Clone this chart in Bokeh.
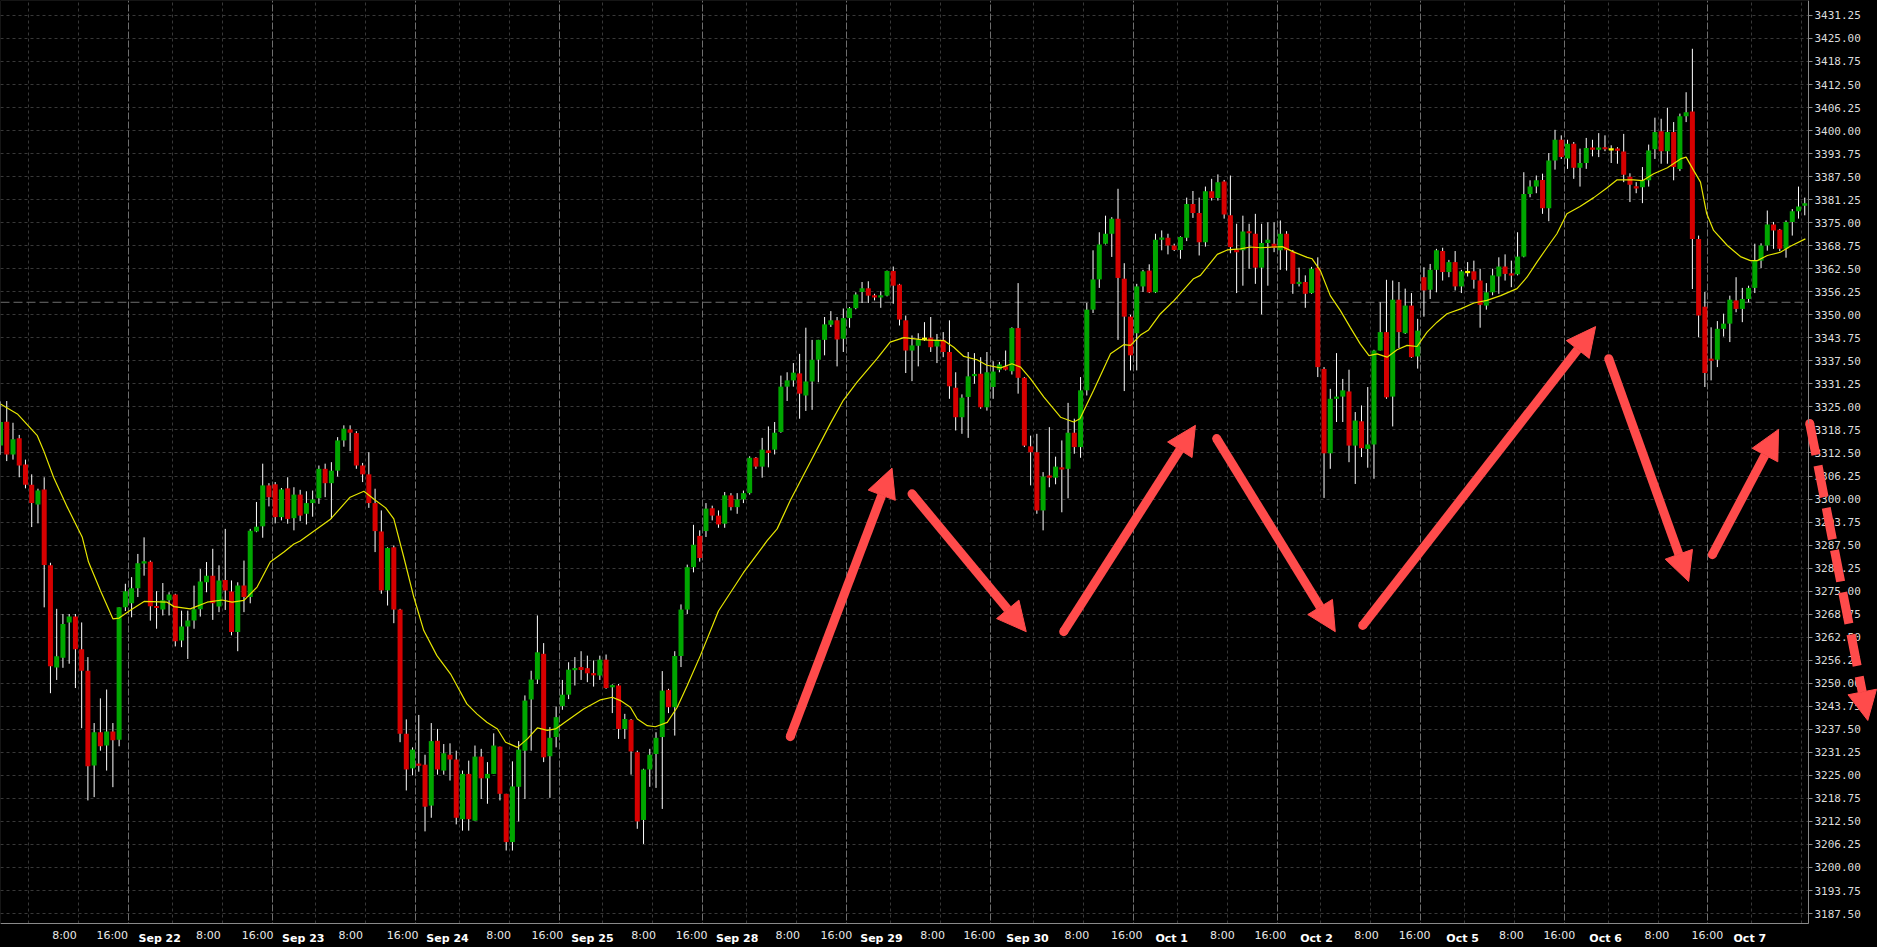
from bokeh.plotting import figure
from bokeh.models import (Range1d, FixedTicker, PrintfTickFormatter, Grid, Span,
                          Label, Arrow, NormalHead, BoxAnnotation)
from bokeh.embed import file_html
from bokeh.resources import INLINE

# ---------------- data (hourly bars, index 0..289) ----------------
opens = [
    3314.5, 3321.0, 3312.1, 3316.5, 3309.4, 3303.9, 3298.5, 3302.6, 3282.0, 3254.3,
    3256.9, 3266.5, 3268.1, 3259.2, 3253.4, 3227.7, 3236.7, 3233.1, 3236.9, 3234.7,
    3270.6, 3271.7, 3275.8, 3282.6, 3283.0, 3270.9, 3270.0, 3272.5, 3274.1, 3261.6,
    3265.4, 3267.0, 3270.1, 3277.4, 3279.2, 3270.8, 3278.0, 3274.9, 3263.9, 3276.5,
    3273.4, 3291.2, 3292.6, 3303.7, 3304.0, 3295.1, 3302.9, 3294.8, 3301.2, 3296.0,
    3298.9, 3300.2, 3308.2, 3304.3, 3307.7, 3315.9, 3318.9, 3317.9, 3309.1, 3306.7,
    3298.9, 3291.2, 3275.2, 3286.9, 3270.0, 3236.3, 3226.9, 3228.1, 3227.9, 3216.8,
    3234.4, 3226.3, 3230.6, 3229.3, 3213.1, 3225.4, 3212.7, 3230.1, 3224.2, 3225.4,
    3232.8, 3220.0, 3206.9, 3221.9, 3231.7, 3245.6, 3251.0, 3258.0, 3230.2, 3235.4,
    3243.8, 3246.9, 3253.6, 3254.4, 3254.1, 3252.7, 3252.1, 3256.4, 3249.0, 3249.4,
    3237.6, 3240.1, 3231.3, 3212.9, 3226.6, 3230.8, 3235.4, 3248.2, 3243.5, 3257.4,
    3270.0, 3281.5, 3290.0, 3291.3, 3297.5, 3295.5, 3293.3, 3301.0, 3297.8, 3299.9,
    3301.6, 3311.2, 3308.8, 3313.2, 3313.4, 3318.2, 3330.5, 3332.2, 3334.1, 3328.1,
    3331.9, 3337.8, 3343.2, 3347.3, 3348.5, 3343.5, 3349.1, 3351.8, 3356.2, 3357.2,
    3355.2, 3354.8, 3355.2, 3361.9, 3358.2, 3348.5, 3340.3, 3341.6, 3343.5, 3343.8,
    3341.4, 3343.2, 3339.9, 3330.2, 3322.2, 3327.7, 3333.5, 3334.0, 3324.9, 3330.4,
    3335.1, 3336.0, 3334.7, 3346.4, 3332.9, 3314.3, 3312.7, 3296.9, 3306.4, 3305.8,
    3308.6, 3308.2, 3318.0, 3314.1, 3329.5, 3351.4, 3359.6, 3369.3, 3372.0, 3376.1,
    3359.8, 3349.5, 3345.0, 3357.7, 3362.0, 3356.1, 3370.4, 3370.9, 3368.8, 3367.6,
    3370.9, 3380.1, 3377.6, 3369.7, 3383.5, 3381.7, 3386.2, 3377.0, 3367.6, 3367.5,
    3372.6, 3372.0, 3362.8, 3369.5, 3369.3, 3367.5, 3372.0, 3367.2, 3358.4, 3358.9,
    3355.9, 3362.8, 3335.3, 3312.4, 3327.2, 3327.8, 3329.2, 3314.5, 3321.1, 3313.6,
    3314.8, 3340.3, 3345.3, 3327.8, 3354.1, 3345.0, 3352.5, 3338.7, 3360.2, 3356.8,
    3362.2, 3367.3, 3361.6, 3364.3, 3357.7, 3361.6, 3361.8, 3359.3, 3352.5, 3356.1,
    3360.4, 3363.1, 3361.1, 3361.0, 3365.8, 3382.8, 3384.8, 3386.6, 3378.9, 3391.9,
    3397.5, 3392.4, 3396.4, 3389.9, 3391.2, 3395.3, 3394.9, 3395.5, 3394.9, 3395.0,
    3394.3, 3387.5, 3384.8, 3384.6, 3386.5, 3394.9, 3399.8, 3394.4, 3399.6, 3389.6,
    3403.9, 3405.2, 3370.6, 3352.2, 3338.0, 3337.8, 3346.2, 3347.6, 3353.9, 3351.6,
    3354.3, 3357.3, 3364.7, 3368.8, 3374.5, 3373.1, 3367.9, 3375.2, 3378.1, 3379.6]

highs = [
    3326.5, 3326.6, 3320.7, 3317.4, 3310.7, 3306.7, 3302.8, 3305.9, 3282.7, 3270.2,
    3268.8, 3268.8, 3268.8, 3266.5, 3257.1, 3239.2, 3245.9, 3248.3, 3239.2, 3270.6,
    3277.0, 3278.8, 3285.1, 3289.6, 3283.3, 3275.0, 3277.2, 3274.7, 3274.3, 3269.7,
    3269.7, 3276.5, 3281.0, 3282.9, 3286.5, 3282.0, 3291.9, 3277.9, 3277.4, 3283.3,
    3291.9, 3299.2, 3309.6, 3304.3, 3304.6, 3303.0, 3305.9, 3303.2, 3302.5, 3302.1,
    3302.3, 3309.1, 3309.6, 3310.0, 3316.8, 3320.0, 3320.0, 3318.4, 3309.8, 3312.7,
    3302.8, 3296.9, 3286.9, 3287.4, 3270.2, 3240.2, 3232.6, 3241.4, 3230.6, 3239.2,
    3237.6, 3233.5, 3233.7, 3231.7, 3226.3, 3229.0, 3233.1, 3232.2, 3228.6, 3236.4,
    3232.8, 3220.0, 3228.8, 3234.3, 3246.7, 3253.4, 3268.4, 3260.9, 3238.1, 3243.7,
    3250.9, 3255.7, 3257.1, 3258.7, 3257.5, 3256.2, 3257.5, 3257.8, 3249.7, 3249.8,
    3241.7, 3240.3, 3231.7, 3226.8, 3232.2, 3236.7, 3253.3, 3248.5, 3258.7, 3271.4,
    3282.2, 3293.0, 3291.5, 3298.9, 3298.2, 3296.9, 3301.9, 3301.6, 3301.6, 3302.3,
    3311.6, 3311.4, 3316.6, 3319.7, 3320.9, 3333.5, 3334.4, 3336.9, 3339.4, 3346.5,
    3343.2, 3343.2, 3349.4, 3351.0, 3349.4, 3351.7, 3352.1, 3356.1, 3358.9, 3359.1,
    3355.7, 3356.4, 3362.0, 3363.1, 3358.4, 3349.8, 3344.4, 3345.0, 3348.0, 3349.4,
    3344.8, 3345.3, 3348.5, 3334.4, 3328.4, 3339.9, 3339.6, 3338.5, 3339.9, 3337.4,
    3337.2, 3340.3, 3346.6, 3358.6, 3333.1, 3317.2, 3317.7, 3307.3, 3319.5, 3311.5,
    3315.9, 3326.1, 3321.8, 3333.1, 3353.2, 3367.5, 3372.4, 3376.9, 3376.5, 3384.2,
    3364.0, 3350.0, 3358.4, 3362.2, 3363.7, 3372.0, 3372.9, 3372.0, 3369.3, 3371.3,
    3381.8, 3383.6, 3381.8, 3384.8, 3386.9, 3388.1, 3386.6, 3387.8, 3374.7, 3376.9,
    3374.7, 3377.4, 3374.7, 3375.1, 3375.1, 3375.6, 3372.7, 3367.6, 3362.8, 3360.7,
    3363.0, 3365.6, 3335.8, 3329.9, 3339.6, 3332.6, 3335.1, 3323.6, 3325.4, 3330.4,
    3340.5, 3353.4, 3359.5, 3359.3, 3358.9, 3357.1, 3355.9, 3348.9, 3362.9, 3363.8,
    3367.9, 3368.2, 3364.9, 3367.3, 3362.2, 3364.3, 3364.7, 3362.5, 3358.6, 3362.5,
    3365.6, 3366.4, 3364.7, 3372.4, 3388.7, 3386.5, 3387.8, 3388.3, 3393.9, 3400.2,
    3398.7, 3397.5, 3396.9, 3395.1, 3398.0, 3397.5, 3399.3, 3398.7, 3396.0, 3395.5,
    3399.1, 3388.4, 3386.0, 3390.1, 3396.2, 3403.5, 3403.2, 3406.2, 3402.3, 3404.6,
    3410.4, 3422.2, 3371.5, 3356.2, 3346.6, 3348.3, 3350.3, 3355.2, 3360.2, 3357.3,
    3357.9, 3369.3, 3369.4, 3378.3, 3375.2, 3373.3, 3375.6, 3378.7, 3384.8, 3381.8]

lows = [
    3312.0, 3310.3, 3310.7, 3305.9, 3302.9, 3292.4, 3293.4, 3270.6, 3247.3, 3250.9,
    3254.2, 3255.3, 3248.7, 3237.8, 3218.2, 3219.1, 3231.7, 3226.3, 3221.8, 3232.9,
    3269.6, 3267.9, 3273.4, 3279.2, 3267.0, 3264.8, 3268.4, 3268.4, 3260.0, 3259.8,
    3256.6, 3264.8, 3268.1, 3274.7, 3267.2, 3269.3, 3269.9, 3263.0, 3258.7, 3269.3,
    3271.7, 3291.0, 3289.5, 3298.0, 3293.4, 3294.2, 3293.3, 3291.5, 3294.0, 3293.1,
    3295.2, 3298.7, 3300.5, 3294.6, 3306.1, 3314.2, 3313.0, 3308.2, 3304.6, 3297.6,
    3285.6, 3274.3, 3271.1, 3266.3, 3234.0, 3220.9, 3225.0, 3226.0, 3209.8, 3213.5,
    3225.2, 3225.2, 3223.6, 3211.7, 3210.0, 3210.0, 3212.7, 3218.6, 3217.3, 3225.4,
    3218.2, 3204.6, 3204.6, 3212.5, 3218.6, 3231.7, 3249.8, 3228.6, 3218.9, 3232.6,
    3242.8, 3245.7, 3249.4, 3250.9, 3250.3, 3249.1, 3250.9, 3248.5, 3241.9, 3234.9,
    3234.9, 3225.2, 3210.5, 3206.4, 3221.9, 3221.6, 3215.9, 3241.9, 3235.8, 3254.4,
    3268.8, 3280.1, 3283.0, 3289.7, 3294.2, 3292.2, 3292.2, 3296.9, 3296.0, 3298.9,
    3301.2, 3308.2, 3305.8, 3308.6, 3312.1, 3318.0, 3326.6, 3330.5, 3321.8, 3323.9,
    3324.2, 3331.7, 3339.0, 3346.7, 3336.0, 3339.9, 3346.5, 3351.5, 3353.2, 3353.2,
    3353.9, 3351.9, 3355.0, 3353.0, 3347.1, 3334.2, 3332.0, 3336.0, 3342.9, 3339.9,
    3336.9, 3338.5, 3327.2, 3318.6, 3317.7, 3316.6, 3331.3, 3324.5, 3324.0, 3327.2,
    3334.4, 3334.9, 3333.8, 3328.6, 3314.1, 3303.7, 3296.0, 3291.5, 3303.2, 3304.0,
    3296.4, 3300.2, 3312.3, 3311.2, 3328.1, 3350.5, 3357.3, 3369.1, 3365.7, 3343.2,
    3329.3, 3334.9, 3334.9, 3356.2, 3355.9, 3355.9, 3367.5, 3366.4, 3367.3, 3365.2,
    3370.0, 3376.3, 3366.1, 3368.5, 3381.0, 3381.0, 3376.1, 3366.7, 3355.9, 3357.9,
    3362.5, 3358.4, 3350.1, 3357.9, 3367.0, 3362.2, 3362.0, 3355.7, 3357.7, 3351.9,
    3355.7, 3333.1, 3300.3, 3308.2, 3320.9, 3320.9, 3310.0, 3304.1, 3311.4, 3308.5,
    3305.5, 3340.3, 3327.2, 3319.7, 3341.0, 3344.8, 3338.3, 3335.4, 3349.5, 3354.3,
    3356.1, 3359.3, 3360.2, 3356.6, 3355.9, 3360.4, 3357.1, 3346.5, 3351.4, 3355.3,
    3355.7, 3359.3, 3357.5, 3360.7, 3365.6, 3381.9, 3383.0, 3377.4, 3375.4, 3389.4,
    3392.3, 3389.6, 3386.9, 3384.8, 3389.6, 3393.0, 3392.8, 3394.4, 3391.2, 3391.0,
    3386.0, 3380.6, 3383.0, 3380.3, 3384.8, 3392.3, 3391.0, 3391.0, 3386.5, 3389.0,
    3402.3, 3357.0, 3343.9, 3330.4, 3332.2, 3335.8, 3344.1, 3342.6, 3350.7, 3348.0,
    3353.4, 3355.9, 3362.7, 3367.4, 3367.9, 3367.3, 3365.5, 3371.5, 3376.1, 3377.0]

closes = [
    3320.9, 3312.1, 3316.2, 3309.1, 3303.9, 3298.9, 3302.3, 3282.1, 3254.6, 3257.3,
    3266.1, 3268.1, 3259.2, 3253.4, 3227.5, 3236.7, 3232.9, 3236.9, 3234.5, 3270.6,
    3275.0, 3275.8, 3282.6, 3283.0, 3270.9, 3270.5, 3272.5, 3274.1, 3261.4, 3265.4,
    3267.0, 3270.1, 3277.6, 3279.2, 3271.7, 3277.9, 3275.2, 3263.9, 3276.5, 3273.4,
    3291.4, 3292.5, 3303.7, 3300.5, 3295.1, 3302.6, 3294.6, 3301.2, 3295.5, 3298.9,
    3299.9, 3308.2, 3304.3, 3307.7, 3315.9, 3319.1, 3318.0, 3309.1, 3306.7, 3298.9,
    3291.3, 3275.2, 3286.7, 3270.0, 3236.3, 3226.6, 3232.0, 3227.7, 3216.5, 3234.3,
    3226.6, 3231.0, 3229.3, 3213.5, 3225.4, 3213.1, 3230.1, 3224.2, 3225.4, 3233.1,
    3220.0, 3206.9, 3222.0, 3232.0, 3245.3, 3251.0, 3258.4, 3229.9, 3235.2, 3240.8,
    3246.9, 3253.7, 3254.1, 3253.6, 3252.7, 3252.2, 3256.4, 3248.7, 3249.4, 3237.6,
    3240.3, 3231.5, 3212.5, 3226.6, 3230.6, 3235.2, 3248.0, 3243.5, 3257.4, 3270.0,
    3281.5, 3287.6, 3284.0, 3297.4, 3295.5, 3293.1, 3301.0, 3297.8, 3299.9, 3301.6,
    3311.2, 3308.8, 3313.4, 3312.5, 3318.0, 3330.5, 3332.2, 3334.3, 3328.6, 3331.9,
    3337.8, 3343.2, 3347.4, 3348.5, 3343.3, 3349.1, 3351.8, 3355.5, 3357.2, 3355.2,
    3354.8, 3355.2, 3361.9, 3357.9, 3348.7, 3340.3, 3341.7, 3343.2, 3343.5, 3341.2,
    3343.2, 3339.9, 3330.6, 3322.2, 3327.5, 3333.3, 3333.8, 3324.9, 3334.4, 3334.6,
    3336.5, 3335.1, 3346.4, 3332.9, 3314.5, 3312.7, 3296.9, 3306.1, 3305.8, 3308.8,
    3308.0, 3318.0, 3314.1, 3329.5, 3351.4, 3359.6, 3369.1, 3372.0, 3376.1, 3360.0,
    3349.5, 3339.0, 3357.7, 3361.8, 3356.1, 3370.4, 3370.9, 3368.8, 3367.6, 3371.1,
    3380.1, 3377.6, 3369.7, 3383.5, 3381.7, 3386.0, 3377.2, 3368.4, 3367.0, 3372.6,
    3372.2, 3362.8, 3369.5, 3370.4, 3368.2, 3372.0, 3367.5, 3358.4, 3358.9, 3355.7,
    3362.5, 3335.8, 3312.4, 3327.2, 3327.8, 3329.5, 3314.5, 3321.3, 3313.8, 3314.8,
    3340.3, 3345.3, 3327.6, 3354.1, 3345.3, 3352.5, 3338.5, 3345.7, 3356.6, 3362.2,
    3367.5, 3361.6, 3364.3, 3357.7, 3361.8, 3361.6, 3359.5, 3352.7, 3356.1, 3360.7,
    3363.1, 3361.1, 3360.8, 3365.8, 3382.8, 3384.8, 3386.5, 3378.9, 3391.9, 3397.5,
    3392.8, 3396.4, 3389.9, 3391.2, 3395.3, 3394.9, 3395.3, 3394.9, 3394.9, 3394.7,
    3388.0, 3385.3, 3384.4, 3386.5, 3394.6, 3399.6, 3394.4, 3399.6, 3390.1, 3403.9,
    3405.0, 3370.6, 3349.8, 3334.2, 3337.6, 3346.2, 3347.6, 3354.1, 3351.6, 3354.3,
    3357.3, 3364.7, 3368.8, 3374.5, 3372.9, 3367.9, 3375.2, 3378.1, 3379.4, 3380.3]

# moving average
ma_x = [0, 2.7, 5.9, 6.9, 8.5, 10.7, 13.1, 14.1, 16, 18, 19, 20.8, 23, 26.7, 27.8, 30.4,
        33.1, 35.5, 37.1, 39, 41.1, 43.2, 45.4, 47, 48, 52.9, 56, 58.2, 60.1, 61.7, 63,
        64.6, 66.2, 67.8, 69.9, 72.1, 73.1, 74.7, 76.3, 77.9, 79.6, 80.9, 82.8, 84.4, 86,
        87.6, 88.9, 90.8, 93.4, 96.1, 98, 99.3, 100.9, 102, 103.6, 104.9, 106.8, 108.4,
        110, 112.1, 115, 119, 122.8, 124.4, 126.5, 129.7, 132.9, 135, 137.2, 140.4, 142.5,
        144.7, 147.9, 151.1, 152.7, 154.3, 156.4, 158, 160.2, 162, 163.4, 165, 167.1,
        169.8, 171.9, 172.9, 175.1, 177.8, 179.9, 181, 182.6, 183.9, 185.8, 188, 191.1,
        192.2, 194.9, 196.5, 198.6, 200.2, 201.8, 203.9, 205.3, 207.2, 209.3, 210.1,
        211.4, 213, 214.6, 216.2, 217.8, 219.2, 220.5, 222.1, 223.7, 225.3, 226.9, 228.5,
        230.1, 231.7, 233.9, 236, 238.1, 240.3, 242.9, 244.5, 246.1, 247.7, 249.3, 250.9,
        253, 255.2, 257.3, 258.9, 261.6, 263, 264.8, 267, 269.1, 270, 271.2, 272.3, 273.3,
        274.4, 276.6, 278.7, 280.3, 281.4, 283, 285.1, 286.7, 289.1]
ma_y = [3325.8, 3323.1, 3317.2, 3313.2, 3305.9, 3297.8, 3289.6, 3282.9, 3275.2, 3267.5,
        3267.7, 3269.8, 3272.2, 3272.0, 3270.8, 3270.2, 3272.0, 3272.6, 3272.0, 3272.5,
        3276.1, 3282.9, 3285.6, 3287.8, 3288.6, 3294.6, 3300.5, 3302.1, 3299.6, 3297.6,
        3294.6, 3284.2, 3273.4, 3264.3, 3257.5, 3252.5, 3249.4, 3244.4, 3241.7, 3239.4,
        3237.6, 3234.0, 3232.6, 3234.9, 3237.9, 3237.2, 3237.6, 3239.9, 3243.0, 3245.5,
        3246.2, 3245.3, 3243.5, 3240.3, 3238.5, 3238.2, 3239.4, 3243.5, 3249.4, 3257.5,
        3269.6, 3280.0, 3288.7, 3291.9, 3299.6, 3310.0, 3320.4, 3326.8, 3331.7, 3338.1,
        3342.6, 3343.8, 3343.2, 3343.0, 3341.2, 3338.7, 3337.8, 3336.3, 3335.6, 3336.7,
        3335.8, 3332.6, 3327.7, 3322.2, 3320.9, 3321.8, 3329.5, 3339.4, 3341.9, 3341.7,
        3344.5, 3345.9, 3350.3, 3353.9, 3359.8, 3360.7, 3366.4, 3367.6, 3367.9, 3368.4,
        3368.2, 3368.4, 3368.5, 3367.0, 3365.6, 3365.2, 3362.0, 3355.2, 3351.2, 3346.6,
        3342.1, 3338.9, 3339.4, 3338.5, 3340.5, 3341.7, 3341.4, 3345.3, 3348.0, 3350.3,
        3351.6, 3353.2, 3353.9, 3355.2, 3357.1, 3360.2, 3364.3, 3368.2, 3372.0, 3377.4,
        3379.4, 3381.8, 3384.4, 3386.6, 3386.6, 3386.4, 3388.3, 3389.9, 3392.3, 3392.8,
        3389.2, 3386.0, 3377.4, 3372.9, 3368.8, 3365.8, 3364.7, 3364.7, 3366.1, 3367.0,
        3368.6, 3370.6]

ref_level = 3353.4  # horizontal dashed reference line

# x-axis tick labels
time_ticks = [10.25, 17.9, 33.3, 41.2, 56.1, 64.4, 79.8, 87.6, 103.0, 110.7, 126.1, 133.9,
              149.3, 156.8, 172.4, 180.4, 195.7, 203.4, 218.8, 226.5, 242.0, 249.7, 265.3, 273.4]
time_labels = ["8:00", "16:00"] * 12
date_ticks = [25.5, 48.5, 71.6, 94.8, 118.0, 141.1, 164.5, 187.6, 210.8, 234.2, 257.1, 280.2]
date_labels = ["Sep 22", "Sep 23", "Sep 24", "Sep 25", "Sep 28", "Sep 29", "Sep 30",
               "Oct 1", "Oct 2", "Oct 5", "Oct 6", "Oct 7"]

# vertical grid positions (bar units)
session_lines = [20.5 + 23 * d for d in range(12)]
hour_lines = sorted([4.5 + 23 * d for d in range(13)] + [12.5 + 23 * d for d in range(13)])

# y ticks
y_ticks = [3187.5 + 6.25 * i for i in range(40)]

# annotation arrows (data units: bar index, price)
arrow_x0 = [126.5, 146.0, 170.3, 194.8, 218.2, 257.6, 274.2]
arrow_y0 = [3235.5, 3301.4, 3264.0, 3316.4, 3265.7, 3338.1, 3284.9]
arrow_x1 = [142.8, 164.3, 191.4, 213.8, 255.5, 270.4, 284.8]
arrow_y1 = [3308.4, 3264.0, 3320.0, 3264.0, 3346.8, 3277.6, 3318.9]
dashed_x = [289.8, 299.1]
dashed_y = [3320.5, 3239.9]

# ---------------- layout constants ----------------
PX_PER_BAR = 1808 / 289.6
PX_PER_PT = 923 / 250.5
X_PLOT_END = 289.6          # right edge of price pane (axis line)
Y_PLOT_BOTTOM = 3184.8      # bottom edge of price pane (axis line)
Y_TOP = 3435.3
X_END = 1877 / PX_PER_BAR
Y_START = Y_TOP - 947 / PX_PER_PT

RED = "#d60000"
GREEN = "#00a600"
DOJI = "#ffff00"
ARROW = "#ff4b4b"
BORDER = "#8a8a8a"

idx = list(range(len(opens)))
body_top, body_bot, body_col = [], [], []
for o, c in zip(opens, closes):
    hi, lo = max(o, c), min(o, c)
    if hi - lo < 0.6:
        m = (hi + lo) / 2
        hi, lo = m + 0.3, m - 0.3
    body_top.append(hi)
    body_bot.append(lo)
    body_col.append(GREEN if c > o else (RED if c < o else DOJI))

p = figure(width=1877, height=947,
           x_range=Range1d(0, X_END), y_range=Range1d(Y_START, Y_TOP),
           y_axis_location="right", toolbar_location=None, output_backend="svg",
           min_border_left=0, min_border_top=0, min_border_right=0, min_border_bottom=0,
           background_fill_color="#000000", border_fill_color="#000000",
           outline_line_color=None)

# grids
p.xgrid.ticker = FixedTicker(ticks=hour_lines)
p.xgrid.grid_line_color = "#383838"
p.xgrid.grid_line_dash = "3 3"
p.ygrid.ticker = FixedTicker(ticks=y_ticks)
p.ygrid.grid_line_color = "#383838"
p.ygrid.grid_line_dash = "3 3"
p.add_layout(Grid(dimension=0, ticker=FixedTicker(ticks=session_lines),
                  grid_line_color="#6e6e6e", grid_line_dash="7 2"))
p.add_layout(Span(location=ref_level, dimension="width", line_color="#6e6e6e",
                  line_dash="9 4", line_width=1, level="underlay"))

# black masks outside the price pane (axis label areas), then pane border
p.add_layout(BoxAnnotation(left=X_PLOT_END, right=X_END + 20, bottom=Y_START - 20, top=Y_TOP + 20,
                           fill_color="#000000", fill_alpha=1.0, line_color=None, level="underlay"))
p.add_layout(BoxAnnotation(left=-20, right=X_END + 20, bottom=Y_START - 20, top=Y_PLOT_BOTTOM,
                           fill_color="#000000", fill_alpha=1.0, line_color=None, level="underlay"))
p.add_layout(BoxAnnotation(left=0, right=X_PLOT_END, bottom=Y_PLOT_BOTTOM, top=Y_TOP,
                           fill_alpha=0.0, line_color=BORDER, line_width=1, level="underlay"))

# candles
p.segment(x0=idx, y0=lows, x1=idx, y1=highs, line_color="#ffffff", line_width=1)
p.vbar(x=idx, width=0.8, top=body_top, bottom=body_bot, fill_color=body_col, line_color=None)

# moving average
p.line(ma_x, ma_y, line_color="#e6e600", line_width=1.2)

# axes (fixed on the pane edges)
p.xaxis.fixed_location = Y_PLOT_BOTTOM
p.xaxis.bounds = (0, X_PLOT_END)
p.xaxis.ticker = FixedTicker(ticks=time_ticks)
p.xaxis.major_label_overrides = {t: l for t, l in zip(time_ticks, time_labels)}
p.xaxis.major_tick_line_color = None
p.xaxis.minor_tick_line_color = None
p.xaxis.major_tick_out = 0
p.xaxis.major_tick_in = 0
p.xaxis.axis_line_color = BORDER
p.xaxis.major_label_standoff = 5
p.xaxis.major_label_text_color = "#e8e8e8"
p.xaxis.major_label_text_font = "DejaVu Sans"
p.xaxis.major_label_text_font_size = "11px"

p.yaxis.fixed_location = X_PLOT_END
p.yaxis.bounds = (Y_PLOT_BOTTOM, Y_TOP)
p.yaxis.ticker = FixedTicker(ticks=y_ticks)
p.yaxis.formatter = PrintfTickFormatter(format="%.2f")
p.yaxis.major_tick_out = 4
p.yaxis.major_tick_in = 0
p.yaxis.major_tick_line_color = BORDER
p.yaxis.minor_tick_line_color = None
p.yaxis.axis_line_color = BORDER
p.yaxis.major_label_standoff = 2
p.yaxis.major_label_text_color = "#dcdcdc"
p.yaxis.major_label_text_font = "DejaVu Sans Mono"
p.yaxis.major_label_text_font_size = "11px"

# bold date labels under the axis (baseline ~14.5 px below pane bottom)
date_y = Y_PLOT_BOTTOM - 14.5 / PX_PER_PT
for t, l in zip(date_ticks, date_labels):
    p.add_layout(Label(x=t, y=date_y, text=l,
                       text_align="center", text_baseline="alphabetic",
                       text_color="#ffffff", text_font="DejaVu Sans",
                       text_font_size="11px", text_font_style="bold"))

# red arrows (butt-capped shafts, round tails drawn as dots)
for x0, y0, x1, y1 in zip(arrow_x0, arrow_y0, arrow_x1, arrow_y1):
    p.add_layout(Arrow(end=NormalHead(size=29, fill_color=ARROW, line_color=ARROW, line_width=1),
                       x_start=x0, y_start=y0, x_end=x1, y_end=y1,
                       line_color=ARROW, line_width=9, line_cap="butt", level="overlay"))
p.add_layout(Arrow(end=NormalHead(size=29, fill_color=ARROW, line_color=ARROW, line_width=1),
                   x_start=dashed_x[0], y_start=dashed_y[0], x_end=dashed_x[1], y_end=dashed_y[1],
                   line_color=ARROW, line_width=9, line_dash="32 11", line_cap="butt",
                   level="overlay"))
p.scatter(x=arrow_x0 + [dashed_x[0]], y=arrow_y0 + [dashed_y[0]], marker="circle", size=9,
          fill_color=ARROW, line_color=None)

html = file_html(p, INLINE)
html = html.replace("<head>", "<head><style>html,body{margin:0;padding:0;background:#000000;overflow:hidden;}</style>", 1)
open("out.html", "w").write(html)
